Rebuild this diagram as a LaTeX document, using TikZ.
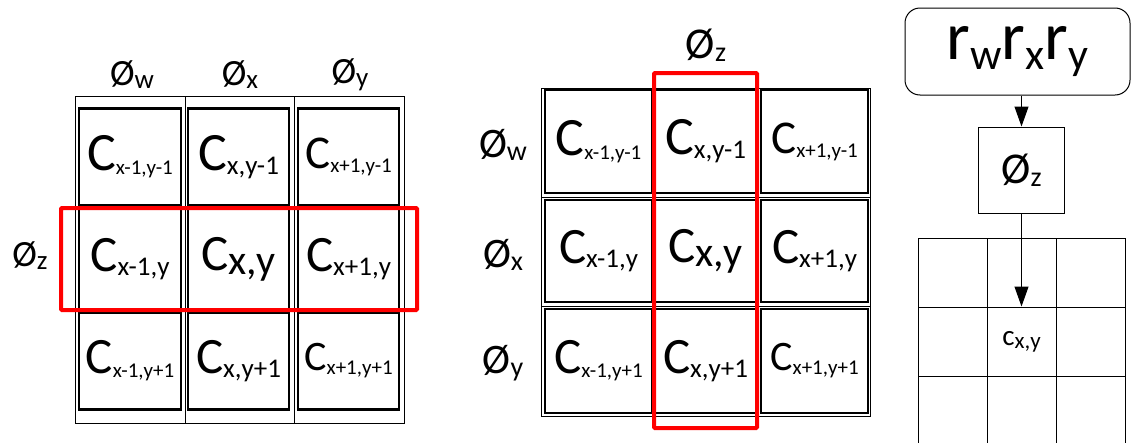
\documentclass[tikz,border=0pt]{standalone}
\usepackage{fontspec}
\setmainfont{Carlito}
\usetikzlibrary{arrows.meta,positioning}

% C with a lowered index: size of C, size of index, index
\newcommand{\cellc}[3]{{\fontsize{#1}{#1}\selectfont C}\raisebox{-4pt}{\fontsize{#2}{#2}\selectfont #3}}
% slashed O with a lowered index
\newcommand{\phil}[3]{{\fontsize{#1}{#1}\selectfont Ø}\raisebox{-3pt}{\fontsize{#2}{#2}\selectfont #3}}

\begin{document}
\begin{tikzpicture}[x=1pt, y=-1pt,
    thinbox/.style={draw, line width=0.8pt, inner sep=0pt},
    cellbox/.style={draw, line width=2.8pt, inner sep=0pt},
    redbox/.style={draw=red, line width=4pt, inner sep=0pt, rounded corners=1pt},
    gridcell/.style={draw, line width=1pt, minimum size=69pt, inner sep=0pt},
    arrow/.style={line width=1pt, -{Triangle[length=20pt, width=14pt]}}]
    \useasboundingbox (0,0) rectangle (1131,442);

    % left: three columns
    \node[thinbox, minimum width=110pt, minimum height=327pt] (lcol1) at (130,259.5) {};
    \node[thinbox, minimum width=109pt, minimum height=327pt] (lcol2) at (239.5,259.5) {};
    \node[thinbox, minimum width=110pt, minimum height=327pt] (lcol3) at (349,259.5) {};
    \node[cellbox, minimum width=102pt, minimum height=97pt] (l11) at (130,157) {\cellc{54}{21}{x-1,y-1}};
    \node[cellbox, minimum width=101pt, minimum height=97pt] (l12) at (238.5,157) {\cellc{54}{27}{x,y-1}};
    \node[cellbox, minimum width=101pt, minimum height=97pt] (l13) at (348.5,157) {\cellc{47}{21}{x+1,y-1}};
    \node[cellbox, minimum width=102pt, minimum height=101pt] (l21) at (130,259) {\cellc{51}{27}{x-1,y}};
    \node[cellbox, minimum width=101pt, minimum height=101pt] (l22) at (238.5,259) {\cellc{51}{42}{x,y}};
    \node[cellbox, minimum width=101pt, minimum height=101pt] (l23) at (348.5,259) {\cellc{51}{27}{x+1,y}};
    \node[cellbox, minimum width=102pt, minimum height=97pt] (l31) at (130,361) {\cellc{51}{21}{x-1,y+1}};
    \node[cellbox, minimum width=101pt, minimum height=97pt] (l32) at (238.5,361) {\cellc{51}{27}{x,y+1}};
    \node[cellbox, minimum width=101pt, minimum height=97pt] (l33) at (348.5,361) {\cellc{42}{21}{x+1,y+1}};
    \node[redbox, minimum width=356pt, minimum height=102pt] (lsel) at (239,259) {};
    \node (lw) at (132,75) {\phil{37}{27}{w}};
    \node (lx) at (240,75) {\phil{37}{27}{x}};
    \node (ly) at (350,75) {\phil{37}{27}{y}};
    \node (lz) at (30,256) {\phil{37}{27}{z}};

    % middle: three rows
    \node[thinbox, minimum width=329pt, minimum height=109pt] (mrow1) at (705.5,142.5) {};
    \node[thinbox, minimum width=329pt, minimum height=109pt] (mrow2) at (705.5,251.5) {};
    \node[thinbox, minimum width=329pt, minimum height=110pt] (mrow3) at (705.5,361) {};
    \node[cellbox, minimum width=107pt, minimum height=103pt] (m11) at (598.5,141.5) {\cellc{54}{21}{x-1,y-1}};
    \node[cellbox, minimum width=105pt, minimum height=103pt] (m12) at (705.5,141.5) {\cellc{54}{27}{x,y-1}};
    \node[cellbox, minimum width=107pt, minimum height=103pt] (m13) at (814.5,141.5) {\cellc{47}{21}{x+1,y-1}};
    \node[cellbox, minimum width=107pt, minimum height=102pt] (m21) at (598.5,251) {\cellc{51}{27}{x-1,y}};
    \node[cellbox, minimum width=105pt, minimum height=102pt] (m22) at (705.5,251) {\cellc{51}{42}{x,y}};
    \node[cellbox, minimum width=107pt, minimum height=102pt] (m23) at (814.5,251) {\cellc{51}{27}{x+1,y}};
    \node[cellbox, minimum width=107pt, minimum height=104pt] (m31) at (598.5,361) {\cellc{51}{21}{x-1,y+1}};
    \node[cellbox, minimum width=105pt, minimum height=104pt] (m32) at (705.5,361) {\cellc{51}{27}{x,y+1}};
    \node[cellbox, minimum width=107pt, minimum height=104pt] (m33) at (814.5,361) {\cellc{42}{21}{x+1,y+1}};
    \node[redbox, minimum width=103pt, minimum height=355pt] (msel) at (705.5,250.5) {};
    \node (mz) at (706,45) {\phil{44}{28}{z}};
    \node (mw) at (503,145) {\phil{42}{28}{w}};
    \node (mx) at (503,255) {\phil{42}{28}{x}};
    \node (my) at (503,363) {\phil{42}{28}{y}};

    % right: inputs, filter, output grid
    \node[draw, line width=1pt, rounded corners=15pt, minimum width=225pt, minimum height=87pt, inner sep=0pt] (rin) at (1017.5,51.5)
        {\fontsize{68}{68}\selectfont r\raisebox{-10pt}{\fontsize{44}{44}\selectfont w}r\raisebox{-10pt}{\fontsize{44}{44}\selectfont x}r\raisebox{-10pt}{\fontsize{44}{44}\selectfont y}};
    \node[draw, line width=1pt, minimum size=86pt, inner sep=0pt] (rphi) at (1021.5,170) {\phil{44}{28}{z}};
    \foreach \c/\xx in {1/952.5,2/1021.5,3/1090.5}
        \foreach \r/\yy in {1/272.5,2/341.5,3/410.5}
            \node[gridcell] (g\r\c) at (\xx,\yy) {};
    \node (rcxy) at (g22.center) {\fontsize{29}{29}\selectfont c\raisebox{-3pt}{\fontsize{23}{23}\selectfont x,y}};

    \draw[arrow] (rphi |- rin.south) -- (rphi.north);
    \draw[arrow] (rphi.south) -- (g22.north);
\end{tikzpicture}
\end{document}
